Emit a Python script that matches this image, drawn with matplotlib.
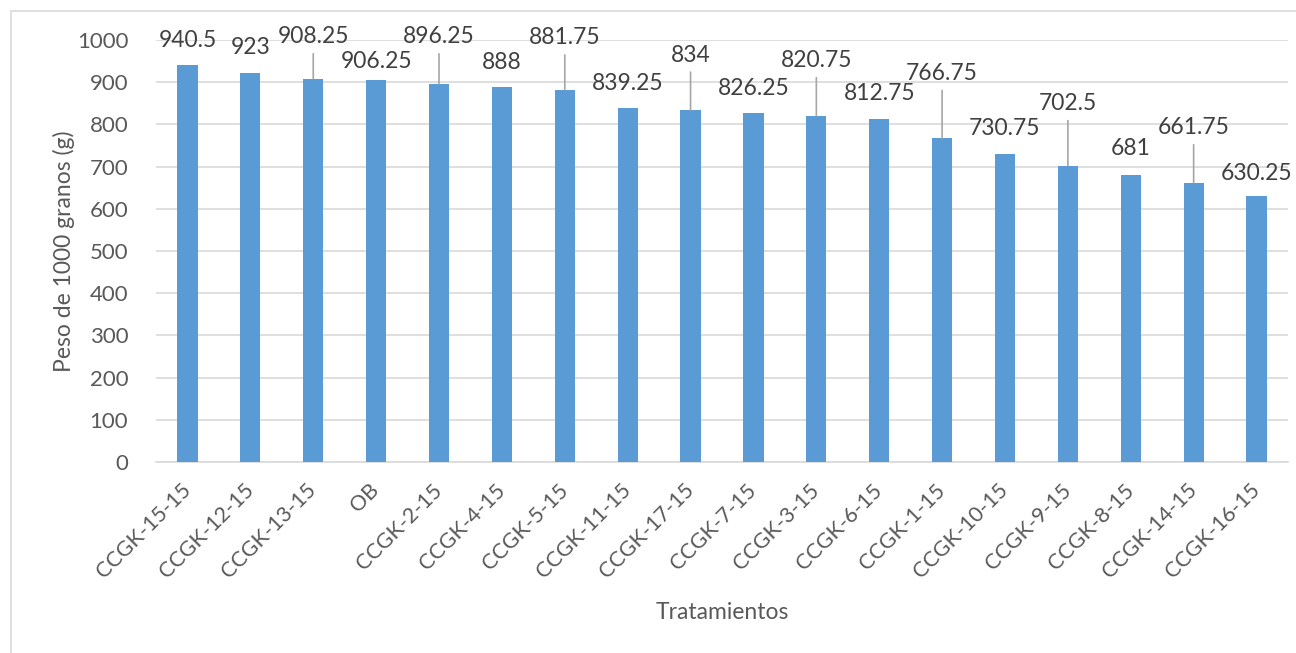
import numpy as np
import matplotlib
matplotlib.use("Agg")
import matplotlib.pyplot as plt
from matplotlib.patches import Rectangle

# datos
tratamientos = ["CCGK-15-15", "CCGK-12-15", "CCGK-13-15", "OB", "CCGK-2-15", "CCGK-4-15",
                "CCGK-5-15", "CCGK-11-15", "CCGK-17-15", "CCGK-7-15", "CCGK-3-15", "CCGK-6-15",
                "CCGK-1-15", "CCGK-10-15", "CCGK-9-15", "CCGK-8-15", "CCGK-14-15", "CCGK-16-15"]
peso = [940.5, 923, 908.25, 906.25, 896.25, 888, 881.75, 839.25, 834, 826.25,
        820.75, 812.75, 766.75, 730.75, 702.5, 681, 661.75, 630.25]
etiquetas = ["940.5", "923", "908.25", "906.25", "896.25", "888", "881.75", "839.25", "834",
             "826.25", "820.75", "812.75", "766.75", "730.75", "702.5", "681", "661.75", "630.25"]

# posicion de etiquetas (pixeles sobre la barra) y lineas guia
desplaz = [25, 25, 42, 18, 47, 25, 52, 24, 55, 25, 55, 26, 65, 25, 62, 26, 55, 23]
guia = [False, False, True, False, True, False, True, False, True, False,
        True, False, True, False, True, False, True, False]

plt.rcParams['font.family'] = ['Lato', 'DejaVu Sans']

fig = plt.figure(figsize=(12.96, 6.53), dpi=100)
ax = fig.add_axes([0.1204, 0.2925, 0.8734, 0.6462])

# marco del grafico
fig.patches.append(Rectangle((0.0085, -0.1), 1.2, 1.083, transform=fig.transFigure,
                             fill=False, edgecolor="#d9d9d9", lw=1.2))

x = np.arange(len(tratamientos))
ax.bar(x, peso, width=0.32, color="#5b9bd5", zorder=3)

for i in range(len(x)):
    ax.annotate(etiquetas[i], xy=(x[i], peso[i]), xytext=(0, desplaz[i]),
                textcoords="offset pixels", ha="center", va="center",
                fontsize=16.5, color="#404040", zorder=4)
    if guia[i]:
        ax.annotate("", xy=(x[i], peso[i]), xytext=(0, desplaz[i] - 17),
                    textcoords="offset pixels",
                    arrowprops=dict(arrowstyle="-", color="#a6a6a6", lw=1.2,
                                    shrinkA=0, shrinkB=0), zorder=4)

ax.set_xlim(-0.5, len(x) - 0.5)
ax.set_ylim(0, 1000)
ax.set_yticks(np.arange(0, 1001, 100))
ax.grid(axis="y", color="#d9d9d9", lw=1.2, zorder=0)
for s in ["top", "right", "left"]:
    ax.spines[s].set_visible(False)
ax.spines["bottom"].set_color("#d9d9d9")
ax.spines["bottom"].set_linewidth(1.2)
ax.spines["bottom"].set_zorder(2)

ax.set_xticks(x)
ax.set_xticklabels(tratamientos, rotation=45, ha="right", va="center",
                   rotation_mode="anchor", fontsize=15.5, color="#595959")
ax.tick_params(axis="x", length=0, pad=18)
ax.tick_params(axis="y", length=0, pad=20, labelsize=16, labelcolor="#595959")

ax.set_ylabel("Peso de 1000 granos (g)", fontsize=16.5, color="#595959", labelpad=1)
ax.set_xlabel("Tratamientos", fontsize=16.5, color="#595959", labelpad=14)

fig.savefig("out.png", dpi=100)
